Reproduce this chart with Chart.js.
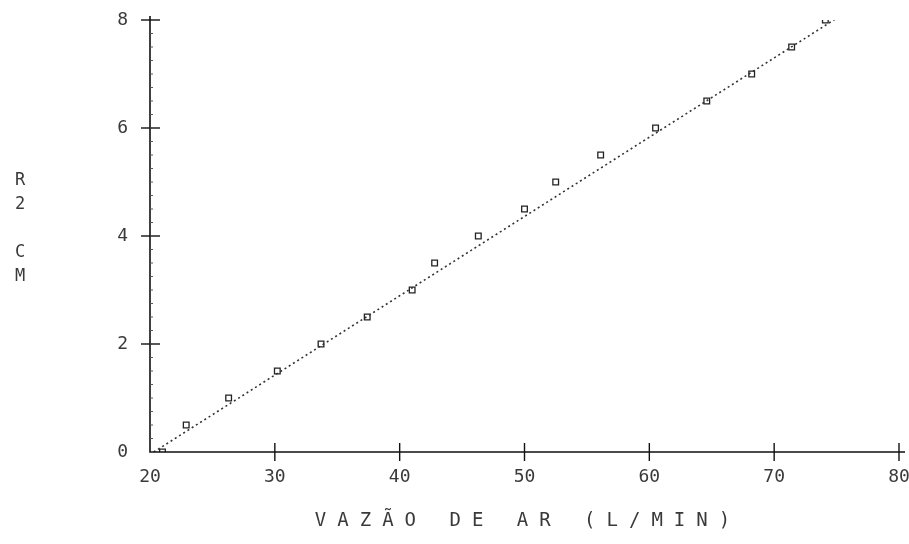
<!DOCTYPE html>
<html>
<head>
<meta charset="utf-8">
<script src="https://cdn.jsdelivr.net/npm/chart.js@4.4.1/dist/chart.umd.min.js"></script>
<style>
  html, body { margin: 0; padding: 0; background: #fff; }
  #wrap { width: 909px; height: 544px; }
</style>
</head>
<body>
<div id="wrap"><canvas id="grafico"></canvas></div>
<script>
// leituras: vazão de ar (L/min) x escala
const vazao = [21.0, 22.9, 26.3, 30.2, 33.7, 37.4, 41.0, 42.8, 46.3, 50.0, 52.5, 56.1, 60.5, 64.6, 68.2, 71.4, 74.1]
const escala = [0, 0.5, 1, 1.5, 2, 2.5, 3, 3.5, 4, 4.5, 5, 5.5, 6, 6.5, 7, 7.5, 8]

// reta ajustada (extremos)
const retaX = [20.3, 75.8]
const retaY = [0, 8.15]

const xTicks = [20, 30, 40, 50, 60, 70, 80]
const yTicks = [0, 2, 4, 6, 8]

const tituloX = 'VAZÃO DE AR (L/MIN)'
const tituloY = ['R', '2', '', 'C', 'M']

const fonte = '"DejaVu Sans Mono", monospace'
const cinza = '#3a3a3a'

// eixos com marcas cruzadas, no estilo de plotter
const eixos = {
  id: 'eixos',
  afterDraw(chart) {
    const { ctx, scales: { x, y } } = chart
    const x0 = x.getPixelForValue(20)
    const y0 = y.getPixelForValue(0)
    ctx.save()
    ctx.strokeStyle = '#111'
    ctx.lineWidth = 1.6
    ctx.beginPath()
    ctx.moveTo(x0, y.getPixelForValue(8) - 4)
    ctx.lineTo(x0, y0)
    ctx.lineTo(x.getPixelForValue(80) + 6, y0)
    ctx.stroke()

    ctx.lineWidth = 1.4
    yTicks.forEach(v => {
      if (v === 0) return
      const py = y.getPixelForValue(v)
      ctx.beginPath()
      ctx.moveTo(x0 - 9, py)
      ctx.lineTo(x0 + 10, py)
      ctx.stroke()
    })
    xTicks.forEach(v => {
      if (v === 20) return
      const px = x.getPixelForValue(v)
      ctx.beginPath()
      ctx.moveTo(px, y0 - 9)
      ctx.lineTo(px, y0 + 9)
      ctx.stroke()
    })

    // marcas menores do eixo y
    ctx.lineWidth = 1
    ctx.strokeStyle = '#555'
    for (let v = 0.25; v < 8; v += 0.25) {
      const py = y.getPixelForValue(v)
      ctx.beginPath()
      ctx.moveTo(x0, py)
      ctx.lineTo(x0 + 3, py)
      ctx.stroke()
    }

    // títulos dos eixos
    ctx.fillStyle = cinza
    ctx.font = '19px ' + fonte
    ctx.textAlign = 'center'
    ctx.textBaseline = 'middle'
    ctx.letterSpacing = '11px'
    ctx.fillText(tituloX, 528, 521)
    ctx.letterSpacing = '0px'
    ctx.font = '17px ' + fonte
    tituloY.forEach((c, i) => {
      ctx.fillText(c, 20, 181 + i * 24)
    })
    ctx.restore()
  }
}

new Chart(document.getElementById('grafico'), {
  type: 'scatter',
  data: {
    datasets: [
      {
        label: 'reta',
        type: 'line',
        data: retaX.map((v, i) => ({ x: v, y: retaY[i] })),
        borderColor: '#333',
        borderWidth: 1.6,
        borderDash: [2, 3],
        pointRadius: 0,
        fill: false
      },
      {
        label: 'pontos',
        data: vazao.map((v, i) => ({ x: v, y: escala[i] })),
        pointStyle: 'rect',
        pointRadius: 4,
        borderColor: '#222',
        borderWidth: 1.3,
        backgroundColor: 'rgba(255,255,255,0)'
      }
    ]
  },
  options: {
    responsive: true,
    maintainAspectRatio: false,
    animation: false,
    layout: { padding: { top: 20, right: 10, left: 0, bottom: 0 } },
    plugins: {
      legend: { display: false },
      tooltip: { enabled: false }
    },
    scales: {
      x: {
        type: 'linear',
        min: 20,
        max: 80,
        grid: { display: false },
        border: { display: false },
        afterBuildTicks: s => { s.ticks = xTicks.map(v => ({ value: v })) },
        afterFit: s => {
          s.height = 92
          s.paddingLeft = 0
          s.paddingRight = 0
        },
        ticks: {
          padding: 7,
          color: cinza,
          font: { family: fonte, size: 18 }
        }
      },
      y: {
        min: 0,
        max: 8,
        grid: { display: false },
        border: { display: false },
        afterBuildTicks: s => { s.ticks = yTicks.map(v => ({ value: v })) },
        afterFit: s => {
          s.width = 150
          s.paddingTop = 0
          s.paddingBottom = 0
        },
        ticks: {
          padding: 14,
          color: cinza,
          font: { family: fonte, size: 18 }
        }
      }
    }
  },
  plugins: [eixos]
})
</script>
</body>
</html>
